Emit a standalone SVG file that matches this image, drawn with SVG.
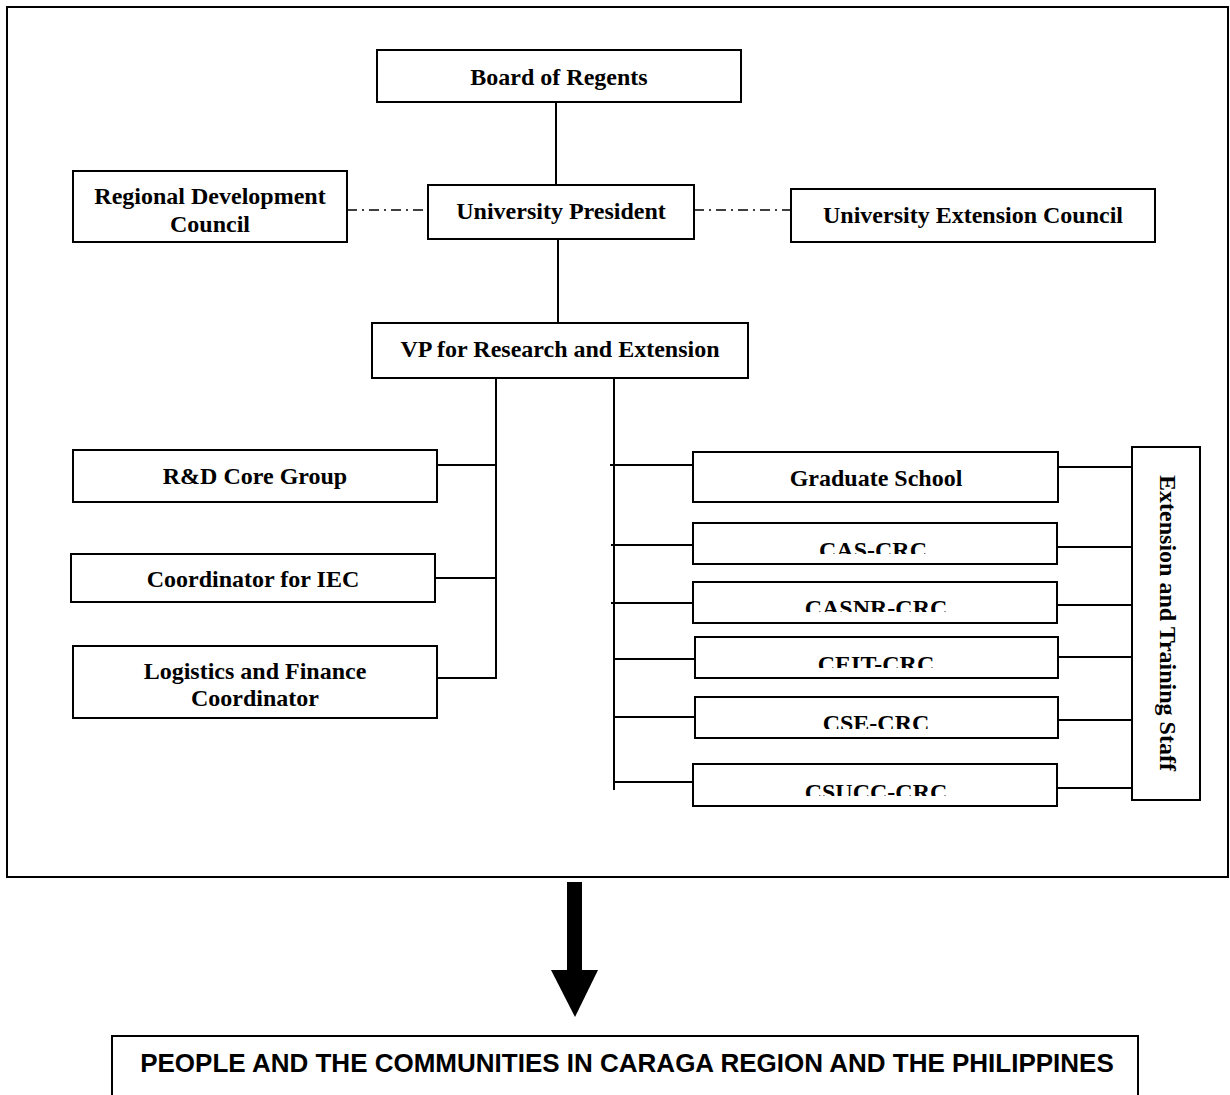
<svg xmlns="http://www.w3.org/2000/svg" width="1230" height="1095" viewBox="0 0 1230 1095">
<style>
.box{fill:#fff;stroke:#000;stroke-width:2}
.t{font-family:"Liberation Serif","Times New Roman",serif;font-weight:bold;font-size:24px;fill:#000;text-anchor:middle}
.ln{stroke:#000;stroke-width:2;fill:none}
.dd{stroke:#000;stroke-width:1.5;fill:none;stroke-dasharray:10 5 2 5}
.b{font-family:"Liberation Sans",Arial,sans-serif;font-weight:bold;font-size:26px;fill:#000;text-anchor:middle}
</style>
<defs>
<clipPath id="c1"><rect x="690" y="520" width="370" height="34"/></clipPath>
<clipPath id="c2"><rect x="690" y="580" width="370" height="32"/></clipPath>
<clipPath id="c3"><rect x="690" y="635" width="370" height="33"/></clipPath>
<clipPath id="c4"><rect x="690" y="695" width="370" height="34"/></clipPath>
<clipPath id="c5"><rect x="690" y="762" width="370" height="34"/></clipPath>
</defs>
<rect x="7" y="7" width="1221" height="870" fill="none" stroke="#000" stroke-width="2"/>
<g id="connectors">
<line class="ln" x1="556" y1="102" x2="556" y2="185"/>
<line class="ln" x1="558" y1="239" x2="558" y2="323"/>
<line class="dd" x1="347" y1="210" x2="428" y2="210"/>
<line class="dd" x1="694" y1="210" x2="791" y2="210"/>
<polyline class="ln" points="496,378 496,678 432,678"/>
<line class="ln" x1="432" y1="465" x2="496" y2="465"/>
<line class="ln" x1="435" y1="578" x2="496" y2="578"/>
<line class="ln" x1="614" y1="378" x2="614" y2="790"/>
<line class="ln" x1="610" y1="465" x2="693" y2="465"/>
<line class="ln" x1="611" y1="545" x2="693" y2="545"/>
<line class="ln" x1="611" y1="603" x2="693" y2="603"/>
<line class="ln" x1="614" y1="659" x2="695" y2="659"/>
<line class="ln" x1="614" y1="717" x2="695" y2="717"/>
<line class="ln" x1="614" y1="782" x2="697" y2="782"/>
<line class="ln" x1="1058" y1="467" x2="1132" y2="467"/>
<line class="ln" x1="1057" y1="547" x2="1132" y2="547"/>
<line class="ln" x1="1057" y1="605" x2="1134" y2="605"/>
<line class="ln" x1="1058" y1="657" x2="1132" y2="657"/>
<line class="ln" x1="1058" y1="720" x2="1132" y2="720"/>
<line class="ln" x1="1057" y1="788" x2="1132" y2="788"/>
<rect x="567" y="882" width="15" height="90" fill="#000"/>
<polygon points="551,970 598,970 575,1017" fill="#000"/>
</g>
<g id="board"><rect class="box" x="377" y="50" width="364" height="52"/><text class="t" x="559" y="85">Board of Regents</text></g>
<g id="president"><rect class="box" x="428" y="185" width="266" height="54"/><text class="t" x="561" y="219">University President</text></g>
<g id="rdc"><rect class="box" x="73" y="171" width="274" height="71"/><text class="t" x="210" y="204">Regional Development</text><text class="t" x="210" y="232">Council</text></g>
<g id="uec"><rect class="box" x="791" y="189" width="364" height="53"/><text class="t" x="973" y="223">University Extension Council</text></g>
<g id="vp"><rect class="box" x="372" y="323" width="376" height="55"/><text class="t" x="560" y="357">VP for Research and Extension</text></g>
<g id="rd"><rect class="box" x="73" y="450" width="364" height="52"/><text class="t" x="255" y="484">R&amp;D Core Group</text></g>
<g id="iec"><rect class="box" x="71" y="554" width="364" height="48"/><text class="t" x="253" y="587">Coordinator for IEC</text></g>
<g id="logistics"><rect class="box" x="73" y="646" width="364" height="72"/><text class="t" x="255" y="679">Logistics and Finance</text><text class="t" x="255" y="706">Coordinator</text></g>
<g id="grad"><rect class="box" x="693" y="452" width="365" height="50"/><text class="t" x="876" y="486">Graduate School</text></g>
<g id="cas"><rect class="box" x="693" y="523" width="364" height="41"/><text class="t" x="873" y="558" clip-path="url(#c1)">CAS-CRC</text></g>
<g id="casnr"><rect class="box" x="693" y="582" width="364" height="41"/><text class="t" x="876" y="616" clip-path="url(#c2)">CASNR-CRC</text></g>
<g id="ceit"><rect class="box" x="695" y="637" width="363" height="41"/><text class="t" x="876" y="672" clip-path="url(#c3)">CEIT-CRC</text></g>
<g id="cse"><rect class="box" x="695" y="697" width="363" height="41"/><text class="t" x="876" y="731" clip-path="url(#c4)">CSE-CRC</text></g>
<g id="csucc"><rect class="box" x="693" y="764" width="364" height="42"/><text class="t" x="876" y="800" clip-path="url(#c5)">CSUCC-CRC</text></g>
<g id="staff"><rect class="box" x="1132" y="447" width="68" height="353"/><text class="t" transform="translate(1160,623) rotate(90)" x="0" y="0">Extension and Training Staff</text></g>
<g id="people"><rect x="112" y="1036" width="1026" height="80" fill="#fff" stroke="#000" stroke-width="2"/><text class="b" x="627" y="1072">PEOPLE AND THE COMMUNITIES IN CARAGA REGION AND THE PHILIPPINES</text></g>
</svg>
